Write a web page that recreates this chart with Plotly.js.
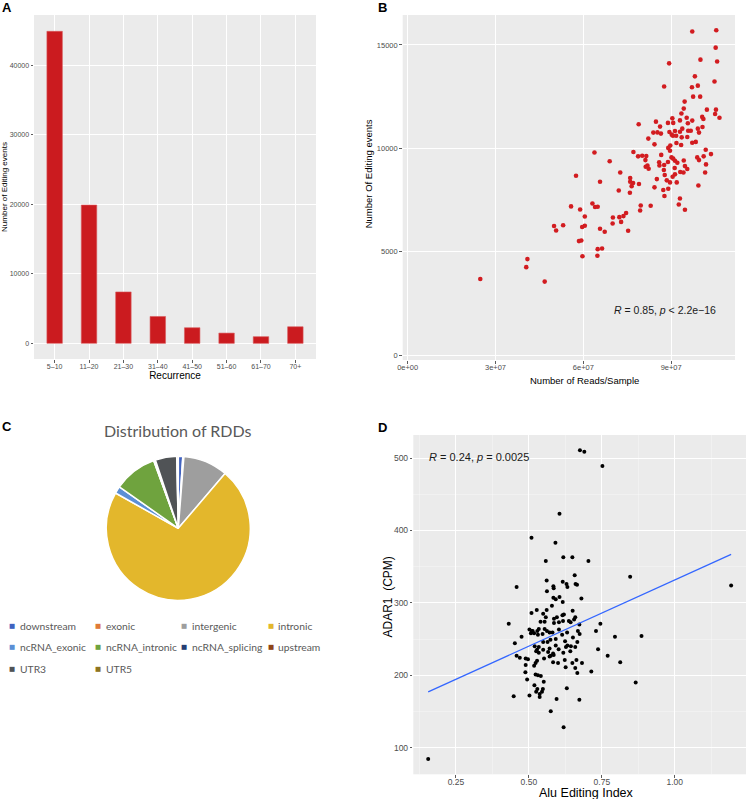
<!DOCTYPE html>
<html><head><meta charset="utf-8">
<script src="https://cdn.plot.ly/plotly-3.0.1.min.js"></script>
<style>html,body{margin:0;padding:0;background:#fff}#chart{width:747px;height:799px}</style>
</head><body><div id="chart"></div>
<script>
// ---------- Panel A data ----------
const recurrence = ['5–10','11–20','21–30','31–40','41–50','51–60','61–70','70+'];
const editingCounts = [44900, 19900, 7400, 3870, 2250, 1480, 960, 2390];

// ---------- Panel B data ----------
const readsPerSample = [
 9.72e7,10.54e7,10.52e7,10.00e7,10.57e7,8.93e7,9.81e7,10.48e7,9.91e7,9.71e7,
 8.76e7,9.75e7,9.99e7,9.46e7,9.43e7,10.22e7,10.53e7,9.35e7,10.50e7,10.65e7,
 10.06e7,10.10e7,9.53e7,9.04e7,9.30e7,9.72e7,7.89e7,8.48e7,8.89e7,9.07e7,
 9.57e7,8.62e7,9.38e7,9.91e7,10.07e7,9.13e7,8.94e7,9.30e7,9.58e7,9.67e7,
 9.95e7,8.39e7,8.53e7,8.65e7,9.02e7,9.06e7,9.17e7,9.36e7,9.55e7,8.22e7,
 9.72e7,9.84e7,8.43e7,9.18e7,9.34e7,
 8.97e7,8.90e7,8.96e7,10.18e7,10.36e7,10.11e7,9.89e7,9.95e7,10.19e7,10.16e7,
 9.93e7,6.38e7,7.71e7,7.87e7,8.01e7,8.15e7,8.12e7,8.66e7,9.01e7,9.07e7,
 9.13e7,9.21e7,8.89e7,8.59e7,8.60e7,8.76e7,9.43e7,9.47e7,9.55e7,9.31e7,
 9.42e7,9.12e7,8.75e7,8.78e7,9.13e7,9.05e7,8.85e7,8.96e7,9.19e7,8.13e7,
 8.19e7,8.23e7,6.90e7,7.26e7,5.75e7,6.57e7,7.60e7,7.60e7,7.70e7,7.65e7,
 7.90e7,8.51e7,8.43e7,8.73e7,8.90e7,8.77e7,9.30e7,9.26e7,9.47e7,7.21e7,
 7.59e7,6.31e7,6.40e7,6.49e7,5.58e7,5.89e7,7.96e7,7.94e7,8.30e7,7.46e7,
 7.37e7,7.23e7,7.01e7,6.05e7,7.29e7,7.00e7,5.00e7,5.31e7,5.07e7,5.96e7,
 6.05e7,6.57e7,6.73e7,7.53e7,5.85e7,5.93e7,6.49e7,6.64e7,5.97e7,6.48e7,
 4.09e7,4.05e7,2.48e7,4.68e7];
const editingEventsB = [
 15650,15710,14870,14290,14200,14110,13480,13230,13030,12950,
 12990,12500,12500,12260,11920,11870,11870,11680,11660,11480,
 11520,11420,11480,11450,11350,11340,11160,11290,11230,11230,
 11210,11050,10950,10950,11030,10840,10790,10800,10850,10850,
 10760,10760,10770,10710,10660,10610,10610,10530,10550,10470,
 10270,10310,10190,10260,10160,
 10130,10020,9880,9930,9720,9610,9560,9430,9220,8830,
 8200,9800,9820,9610,9640,9630,9430,9680,9560,9500,
 9400,9300,9340,9320,9170,9190,9410,9140,9000,8850,
 8830,9050,8950,8710,8740,8620,8450,8350,8350,9110,
 9160,9010,9370,8830,8670,8380,8560,8380,8320,8170,
 8270,8510,8110,7980,8040,7690,7570,7280,7030,7960,
 7850,7330,7160,7170,7190,7040,7230,6990,7220,6870,
 6720,6670,6650,6700,6440,6360,6240,6280,6020,6190,
 6250,6110,5960,6010,5510,5540,5120,5150,4780,4800,
 4640,4250,3680,3550];

// ---------- Panel C data ----------
const rddCategories = ['downstream','exonic','intergenic','intronic','ncRNA_exonic',
  'ncRNA_intronic','ncRNA_splicing','upstream','UTR3','UTR5'];
const rddShares = [1.0, 0.25, 10.0, 71.9, 1.6, 9.7, 0.1, 0.3, 4.8, 0.35];
const rddColors = ['#4062C0','#E07A38','#9E9E9E','#E3B72C','#5B8FD5',
  '#6FA33E','#263D73','#8E4418','#505356','#8E7420'];

// ---------- Panel D data ----------
const aluIndex = [
 0.675,0.690,0.752,0.605,0.509,0.591,0.847,1.193,0.886,0.866,0.155,0.618,0.649,
 0.558,0.704,0.657,0.561,0.616,0.629,0.660,0.665,0.632,0.458,0.584,0.585,0.562,
 0.584,0.592,0.605,0.680,0.616,0.579,0.509,0.527,0.561,0.549,0.620,0.650,0.558,
 0.586,0.596,0.615,0.637,0.655,0.659,0.540,0.554,0.586,0.603,0.617,0.643,0.673,
 0.745,0.431,0.502,0.510,0.507,0.513,0.529,0.534,0.554,0.562,0.571,0.547,0.531,
 0.518,0.581,0.603,0.631,0.668,0.674,0.730,0.795,0.475,0.651,0.614,0.574,0.592,
 0.549,0.564,0.624,0.666,0.452,0.520,0.534,0.571,0.592,0.627,0.632,0.659,0.644,
 0.602,0.528,0.549,0.737,0.525,0.534,0.566,0.583,0.618,0.642,
 0.458,0.469,0.489,0.497,0.528,0.523,0.518,0.489,0.552,0.575,0.585,0.571,0.583,
 0.600,0.623,0.626,0.649,0.663,0.682,0.659,0.666,0.714,0.770,0.813,0.488,0.523,
 0.531,0.541,0.494,0.551,0.519,0.529,0.525,0.548,0.545,0.537,0.537,0.502,0.448,
 0.630,0.595,0.673,0.575,0.619];
const adar1CPM = [
 511,509,489,423,390,383,336,324,254,190,84,363,363,
 358,358,338,331,329,326,326,325,322,322,323,320,316,
 307,305,308,306,301,296,286,290,290,285,284,289,280,
 278,280,283,275,277,280,274,274,272,273,275,273,270,
 271,271,263,261,258,261,261,264,264,261,259,257,256,
 258,259,263,259,261,257,261,253,253,252,256,249,250,
 246,246,247,246,244,240,239,237,241,239,241,239,240,
 236,235,235,236,233,231,232,230,231,233,
 227,224,223,222,220,217,213,214,223,227,228,226,218,
 217,221,211,217,221,217,210,203,205,227,218,204,201,
 200,199,194,191,186,181,177,181,177,174,170,172,171,
 182,167,166,150,128];
const fitX = [0.155, 1.193];
const fitY = [177, 367];

// ---------- helpers ----------
const W = 747, H = 799;
const FONT = 'Liberation Sans, Arial, sans-serif';
const px = v => v / W;
const py = v => 1 - v / H;
const GRID = '#FFFFFF';
const tickF = s => ({family: FONT, size: s, color: '#4D4D4D'});
function baseAxis(extra) {
  return Object.assign({
    showgrid: true, gridcolor: GRID, gridwidth: 1,
    zeroline: false, showline: false,
    ticks: 'outside', ticklen: 2.5, tickwidth: 0.8, tickcolor: '#333333',
    fixedrange: true
  }, extra);
}
function ann(text, x, y, o) {
  return Object.assign({
    text: text, xref: 'paper', yref: 'paper', x: px(x), y: py(y),
    showarrow: false, xanchor: 'center', yanchor: 'middle',
    font: {family: FONT, size: 11, color: '#000000'}
  }, o || {});
}

const traces = [
  {type: 'bar', x: recurrence, y: editingCounts, xaxis: 'x', yaxis: 'y',
   width: 0.45, marker: {color: '#CB1B1F', line: {color: '#D95A5C', width: 0.6}},
   hoverinfo: 'none', showlegend: false},
  {type: 'scatter', mode: 'markers', x: readsPerSample, y: editingEventsB,
   xaxis: 'x2', yaxis: 'y2', marker: {color: '#D21C20', size: 4.6},
   hoverinfo: 'none', showlegend: false},
  {type: 'pie', labels: rddCategories, values: rddShares, sort: false,
   direction: 'clockwise', rotation: 0, textinfo: 'none',
   marker: {colors: rddColors, line: {color: '#FFFFFF', width: 1.5}},
   domain: {x: [px(106.3), px(250.3)], y: [py(600.3), py(456.3)]},
   hoverinfo: 'none', showlegend: false},
  {type: 'scatter', mode: 'markers', x: aluIndex, y: adar1CPM,
   xaxis: 'x3', yaxis: 'y3', marker: {color: '#000000', size: 4},
   hoverinfo: 'none', showlegend: false},
  {type: 'scatter', mode: 'lines', x: fitX, y: fitY, xaxis: 'x3', yaxis: 'y3',
   line: {color: '#3366FF', width: 1.3}, hoverinfo: 'none', showlegend: false}
];

const annotations = [
  ann('<b>A</b>', 0, 7.5, {xanchor: 'left', font: {family: FONT, size: 13, color: '#000'}}),
  ann('<b>B</b>', 375.5, 7.5, {xanchor: 'left', font: {family: FONT, size: 13, color: '#000'}}),
  ann('<b>C</b>', -0.5, 426, {xanchor: 'left', font: {family: FONT, size: 13, color: '#000'}}),
  ann('<b>D</b>', 375.5, 427, {xanchor: 'left', font: {family: FONT, size: 13, color: '#000'}}),
  // Panel B axis titles and statistic
  ann('Number of Reads/Sample', 584.7, 380.5, {font: {family: FONT, size: 9.5, color: '#000'}}),
  ann('Number Of Editing events', 368.3, 174, {textangle: -90, font: {family: FONT, size: 9.5, color: '#000'}}),
  ann('<i>R</i> = 0.85, <i>p</i> &lt; 2.2e−16', 612, 310, {xanchor: 'left', font: {family: FONT, size: 10.5, color: '#1A1A1A'}}),
  // Panel D axis titles and statistic
  ann('Alu Editing Index', 586.5, 792.5, {font: {family: FONT, size: 12.5, color: '#000'}}),
  ann('ADAR1\u00a0 (CPM)', 387, 597.5, {textangle: -90, font: {family: FONT, size: 12, color: '#000'}}),
  ann('<i>R</i> = 0.24, <i>p</i> = 0.0025', 427, 456.7, {xanchor: 'left', font: {family: FONT, size: 11, color: '#1A1A1A'}}),
  // Panel C title
  ann('Distribution of RDDs', 178, 430, {font: {family: 'Lato, sans-serif', size: 16, color: '#595959'}})
];

// Panel C legend (4 columns)
const legColX = [19, 105, 191, 277.3];
const legRowY = [625.7, 647, 669.3];
rddCategories.forEach((c, i) => {
  const tx = legColX[i % 4], ty = legRowY[Math.floor(i / 4)];
  annotations.push(ann('■', tx - 6.7, ty, {font: {family: 'DejaVu Sans', size: 6.5, color: rddColors[i]}}));
  annotations.push(ann(c, tx - 1, ty, {xanchor: 'left', font: {family: 'Lato, sans-serif', size: 10.3, color: '#595959'}}));
});

const layout = {
  width: W, height: H,
  margin: {l: 0, r: 0, t: 0, b: 0},
  paper_bgcolor: '#FFFFFF', plot_bgcolor: '#EBEBEB',
  font: {family: FONT},
  showlegend: false,
  hovermode: false,
  xaxis: baseAxis({domain: [px(34), px(316)], anchor: 'y', type: 'category',
    range: [-0.6, 7.6], tickfont: tickF(7), ticklabelstandoff: -2,
    title: {text: 'Recurrence', font: {family: FONT, size: 10, color: '#000'}, standoff: 3}}),
  yaxis: baseAxis({domain: [py(359), py(15)], anchor: 'x', range: [-2250, 47250],
    tickvals: [0, 10000, 20000, 30000, 40000], tickformat: 'd', tickfont: tickF(7),
    title: {text: 'Number of Editing events', font: {family: FONT, size: 8, color: '#000'}, standoff: 2}}),
  xaxis2: baseAxis({domain: [px(402.7), px(735)], anchor: 'y2', range: [-1.7e6, 1.118e8],
    tickvals: [0, 3e7, 6e7, 9e7], ticktext: ['0e+00', '3e+07', '6e+07', '9e+07'], tickfont: tickF(7.5),
    ticklabelstandoff: -3}),
  yaxis2: baseAxis({domain: [py(360), py(15)], anchor: 'x2', range: [-242, 16449],
    tickvals: [0, 5000, 10000, 15000], tickformat: 'd', tickfont: tickF(7.5)}),
  xaxis3: baseAxis({domain: [px(413.3), px(746)], anchor: 'y3', range: [0.104, 1.244],
    tick0: 0.25, dtick: 0.25, tickformat: '.2f', tickfont: tickF(8.5), ticklabelstandoff: -3,
    minor: {tick0: 0.125, dtick: 0.125, showgrid: true, gridcolor: 'rgba(255,255,255,0.55)', gridwidth: 0.6, ticks: ''}}),
  yaxis3: baseAxis({domain: [py(774.3), py(435)], anchor: 'x3', range: [63, 532],
    tick0: 100, dtick: 100, tickfont: tickF(8.5),
    minor: {tick0: 50, dtick: 50, showgrid: true, gridcolor: 'rgba(255,255,255,0.55)', gridwidth: 0.6, ticks: ''}}),
  annotations: annotations
};

Plotly.newPlot('chart', traces, layout, {staticPlot: true, displayModeBar: false});
</script></body></html>
